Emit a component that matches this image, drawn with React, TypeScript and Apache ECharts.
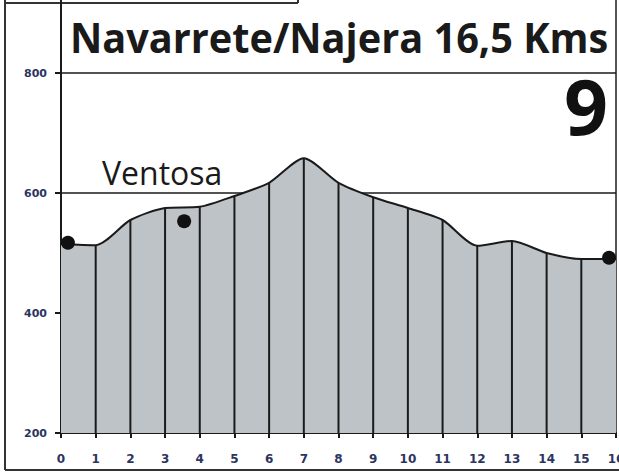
import React, { useEffect, useRef } from "react";
import * as echarts from "echarts";

const kms = [0, 1, 2, 3, 4, 5, 6, 7, 8, 9, 10, 11, 12, 13, 14, 15, 16];
const elevation = [515, 513, 555, 575, 577, 595, 617, 658, 617, 593, 575, 555, 512, 520, 500, 490, 490];
const towns = [
  [0.2, 517],
  [3.55, 553],
  [15.8, 492],
];
const titleText = "Navarrete/Najera 16,5 Kms";
const stageText = "9";
const peakLabel = "Ventosa";

export default function App() {
  const ref = useRef<HTMLDivElement>(null);
  useEffect(() => {
    const chart = echarts.init(ref.current!, null, { renderer: "svg" });
    const profile = kms.map((k, i) => [k, elevation[i]]);
    const drops = kms.filter((k) => k > 0 && k < 16).map((k) => [k, elevation[k]]);
    chart.setOption({
      animation: false,
      backgroundColor: "#ffffff",
      grid: { left: 61, right: 3, top: 73, bottom: 40, containLabel: false, outerBoundsMode: "none" },
      xAxis: {
        type: "value",
        min: 0,
        max: 16,
        interval: 1,
        axisLine: { show: true, onZero: false, lineStyle: { color: "#1a1a1a", width: 2 } },
        axisTick: { show: true, length: 5, lineStyle: { color: "#1a1a1a", width: 2 } },
        axisLabel: { margin: 20, fontSize: 12, fontWeight: "bold", color: "#2c3460", fontFamily: "DejaVu Sans" },
        splitLine: { show: false },
      },
      yAxis: {
        type: "value",
        min: 200,
        max: 800,
        interval: 200,
        axisLine: { show: true, lineStyle: { color: "#1a1a1a", width: 2 } },
        axisTick: { show: true, length: 6, lineStyle: { color: "#1a1a1a", width: 2 } },
        axisLabel: { margin: 14, fontSize: 11, fontWeight: "bold", color: "#2c3460", fontFamily: "DejaVu Sans" },
        splitLine: { show: true, lineStyle: { color: "#1a1a1a", width: 1.5 } },
      },
      series: [
        {
          type: "line",
          data: profile,
          smooth: 0.25,
          symbol: "none",
          lineStyle: { color: "#1a1a1a", width: 2 },
          areaStyle: { color: "#bec3c8", opacity: 1 },
          z: 2,
        },
        {
          type: "bar",
          data: drops,
          barWidth: 2,
          itemStyle: { color: "#1a1a1a" },
          z: 3,
        },
        {
          type: "scatter",
          data: towns,
          symbolSize: 14,
          itemStyle: { color: "#111111", opacity: 1 },
          z: 4,
        },
      ],
      graphic: [
        { type: "line", shape: { x1: 5, y1: 0, x2: 5, y2: 470 }, style: { stroke: "#333", lineWidth: 2 } },
        { type: "line", shape: { x1: 5, y1: 470, x2: 619, y2: 470 }, style: { stroke: "#333", lineWidth: 2 } },
        { type: "line", shape: { x1: 5, y1: 3, x2: 298, y2: 3 }, style: { stroke: "#333", lineWidth: 2 } },
        { type: "line", shape: { x1: 298, y1: 0, x2: 298, y2: 3 }, style: { stroke: "#333", lineWidth: 2 } },
        { type: "line", shape: { x1: 61, y1: 0, x2: 61, y2: 73 }, style: { stroke: "#1a1a1a", lineWidth: 2 } },
        { type: "line", shape: { x1: 616, y1: 0, x2: 616, y2: 433 }, style: { stroke: "#555", lineWidth: 2 } },
        {
          type: "text",
          x: 70,
          y: 37,
          scaleX: 0.945,
          style: {
            text: titleText,
            font: "bold 42px 'Open Sans'",
            fill: "#1a1a1a",
            textAlign: "left",
            textVerticalAlign: "middle",
          },
        },
        {
          type: "text",
          x: 608,
          y: 105,
          style: {
            text: stageText,
            font: "bold 77px 'Open Sans'",
            fill: "#111",
            textAlign: "right",
            textVerticalAlign: "middle",
          },
        },
        {
          type: "text",
          x: 102,
          y: 172,
          style: {
            text: peakLabel,
            font: "32px 'Open Sans'",
            fill: "#1a1a1a",
            textAlign: "left",
            textVerticalAlign: "middle",
          },
        },
      ],
    });
    return () => chart.dispose();
  }, []);
  return <div ref={ref} style={{ width: 619, height: 473, position: "absolute", left: 0, top: 0 }} />;
}
